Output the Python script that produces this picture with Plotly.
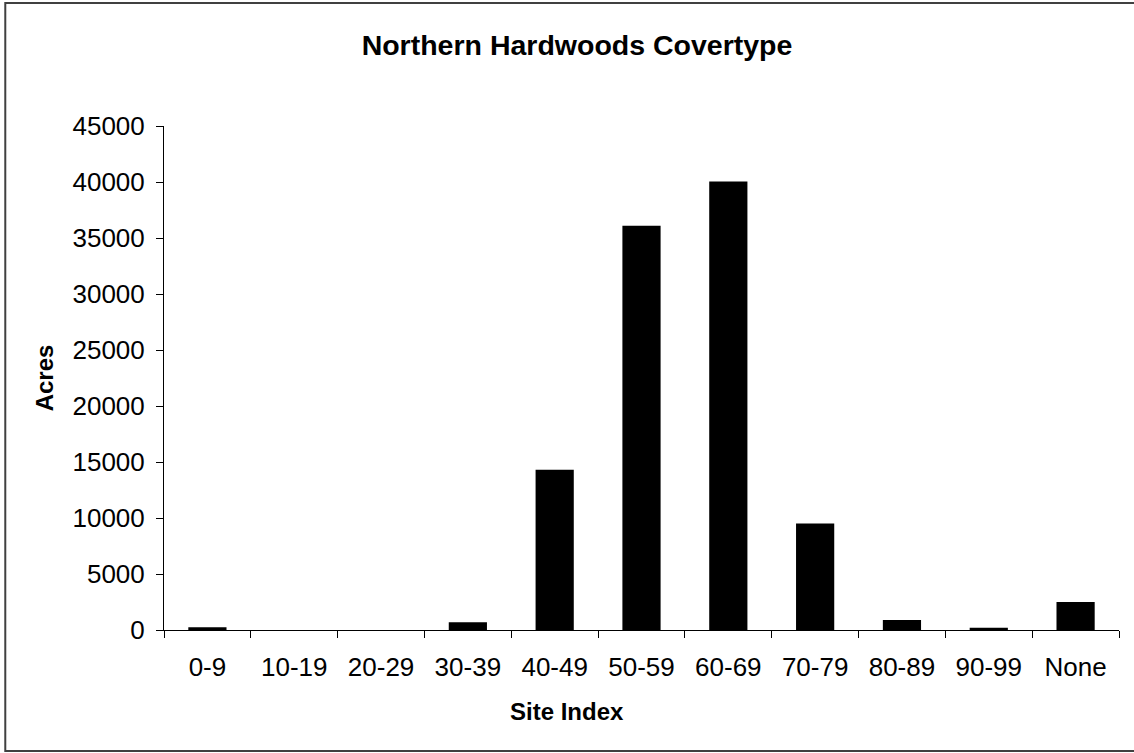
import plotly.graph_objects as go

site_index = ["0-9", "10-19", "20-29", "30-39", "40-49", "50-59",
              "60-69", "70-79", "80-89", "90-99", "None"]
acres = [250, 0, 0, 700, 14300, 36100, 40050, 9500, 900, 200, 2500]

y_ticks = [0, 5000, 10000, 15000, 20000, 25000, 30000, 35000, 40000, 45000]

font_family = "Liberation Sans, Arial, sans-serif"

W, H = 1134, 753
ml, mr, mt, mb = 163.5, 15, 126, 122.5
pw, ph = W - ml - mr, H - mt - mb


def px_x(x):
    # pixel column -> paper x
    return (x - ml) / pw


def px_y(y):
    # pixel row -> paper y
    return (H - mb - y) / ph


fig = go.Figure(data=[go.Bar(x=site_index, y=acres,
                             marker=dict(color="black", line=dict(width=0)))])

fig.update_layout(
    width=W, height=H,
    paper_bgcolor="white", plot_bgcolor="white",
    margin=dict(l=ml, r=mr, t=mt, b=mb, autoexpand=False),
    bargap=0.56,
    showlegend=False,
    font=dict(family=font_family, color="black", size=26),
    # title is centred on the whole chart, not the plot area
    title=dict(text="<b>Northern Hardwoods Covertype</b>", xref="container",
               x=577 / W, xanchor="center",
               y=1 - 45 / H, yanchor="middle", font=dict(size=28.5)),
)

fig.update_xaxes(
    showline=True, linecolor="black", linewidth=1,
    ticks="outside", ticklen=7, tickcolor="black", tickson="boundaries",
    ticklabelstandoff=14,
    showgrid=False, zeroline=False,
)
fig.update_yaxes(
    range=[0, 45000], tickvals=y_ticks, tickformat="d",
    showline=True, linecolor="black", linewidth=1,
    ticks="outside", ticklen=7, tickcolor="black",
    ticklabelstandoff=6,
    showgrid=False, zeroline=False,
)

fig.add_annotation(text="<b>Site Index</b>", xref="paper", yref="paper",
                   x=px_x(567), y=px_y(712), showarrow=False,
                   xanchor="center", yanchor="middle", font=dict(size=24))
fig.add_annotation(text="<b>Acres</b>", xref="paper", yref="paper",
                   x=px_x(44), y=px_y(378), showarrow=False, textangle=-90,
                   xanchor="center", yanchor="middle", font=dict(size=24))

# outer chart border, right edge runs off the picture
fig.add_shape(type="rect", xref="paper", yref="paper",
              x0=px_x(4.7), x1=px_x(1400), y0=px_y(751.5), y1=px_y(3),
              line=dict(color="#404040", width=2), fillcolor="rgba(0,0,0,0)")

fig.write_html("out.html", config={"displayModeBar": False},
               post_script="document.body.style.margin='0';")
